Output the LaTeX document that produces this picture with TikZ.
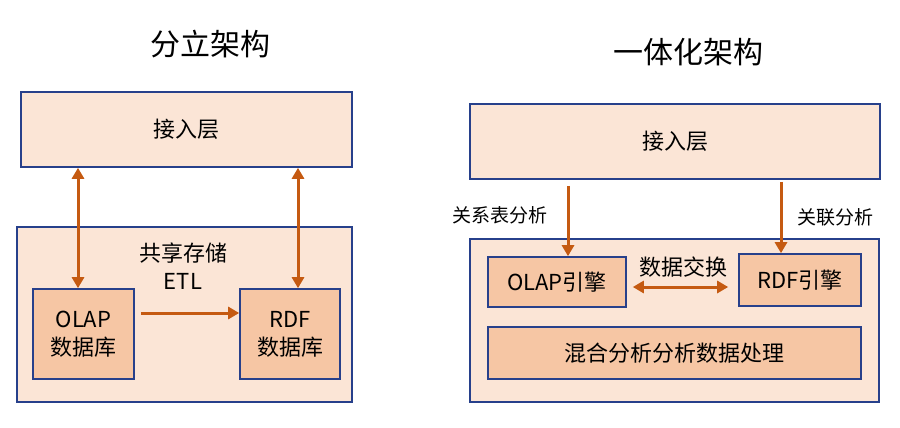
\documentclass[tikz,border=0pt]{standalone}
\usepackage{fontspec}
\setmainfont{Noto Sans CJK SC}
\usetikzlibrary{arrows.meta}
\definecolor{boxline}{HTML}{27408B}
\definecolor{lightfill}{HTML}{FBE5D6}
\definecolor{darkfill}{HTML}{F6C6A4}
\definecolor{arrowc}{HTML}{C55A11}
\tikzset{
  panel/.style={draw=boxline, line width=1.6pt, fill=lightfill, inner sep=0pt},
  unitbox/.style={draw=boxline, line width=1.6pt, fill=darkfill, inner sep=0pt, align=center},
  boxtext/.style={font=\fontsize{22}{28}\selectfont, align=center},
  title/.style={font=\fontsize{30}{34}\selectfont},
  sidelabel/.style={font=\fontsize{19}{22}\selectfont},
  tip/.tip={Triangle[length=11pt,width=12pt]},
  link/.style={draw=arrowc, line width=3pt, -tip},
  dlink/.style={draw=arrowc, line width=3pt, tip-tip},
}
\begin{document}
\begin{tikzpicture}[x=1pt, y=-1pt]
  \useasboundingbox (0,0) rectangle (900,428);
  % left: separate architecture
  \node[title] (t1) at (210,44) {分立架构};
  \node[panel, boxtext, minimum width=331pt, minimum height=75pt] (acc1) at (186.5,129.5) {接入层};
  \node[panel, minimum width=335pt, minimum height=175pt] (store) at (184.5,314.5) {};
  \node[boxtext] (etl) at (183,266) {共享存储\\ETL};
  \node[unitbox, boxtext, minimum width=101pt, minimum height=90pt] (olapdb) at (83.5,334) {OLAP\\数据库};
  \node[unitbox, boxtext, minimum width=100pt, minimum height=90pt] (rdfdb) at (290,334) {RDF\\数据库};
  \draw[dlink] (acc1.south -| 78,0) -- (olapdb.north -| 78,0);
  \draw[dlink] (acc1.south -| 298,0) -- (rdfdb.north -| 298,0);
  \draw[link, shorten <=6pt] (olapdb.east |- 0,313) -- (rdfdb.west |- 0,313);
  % right: unified architecture
  \node[title] (t2) at (688,52) {一体化架构};
  \node[panel, boxtext, minimum width=410pt, minimum height=75pt] (acc2) at (675,141.5) {接入层};
  \node[panel, minimum width=409pt, minimum height=163pt] (uni) at (674.5,320.5) {};
  \node[unitbox, boxtext, minimum width=138pt, minimum height=50pt] (olapeng) at (557,282) {OLAP引擎};
  \node[unitbox, boxtext, minimum width=122pt, minimum height=52pt] (rdfeng) at (800,280) {RDF引擎};
  \node[unitbox, boxtext, minimum width=373pt, minimum height=52pt] (mix) at (674.5,353) {混合分析分析数据处理};
  \node[sidelabel] (lab1) at (500,215) {关系表分析};
  \node[sidelabel] (lab2) at (835,217) {关联分析};
  \node[boxtext] (swap) at (683,267) {数据交换};
  \draw[link, shorten <=6pt] (acc2.south -| 568,0) -- (olapeng.north -| 568,0);
  \draw[link, shorten <=2pt] (acc2.south -| 781,0) -- (rdfeng.north -| 781,0);
  \draw[dlink, shorten <=6pt, shorten >=10pt] (olapeng.east |- 0,287) -- (rdfeng.west |- 0,287);
\end{tikzpicture}
\end{document}
